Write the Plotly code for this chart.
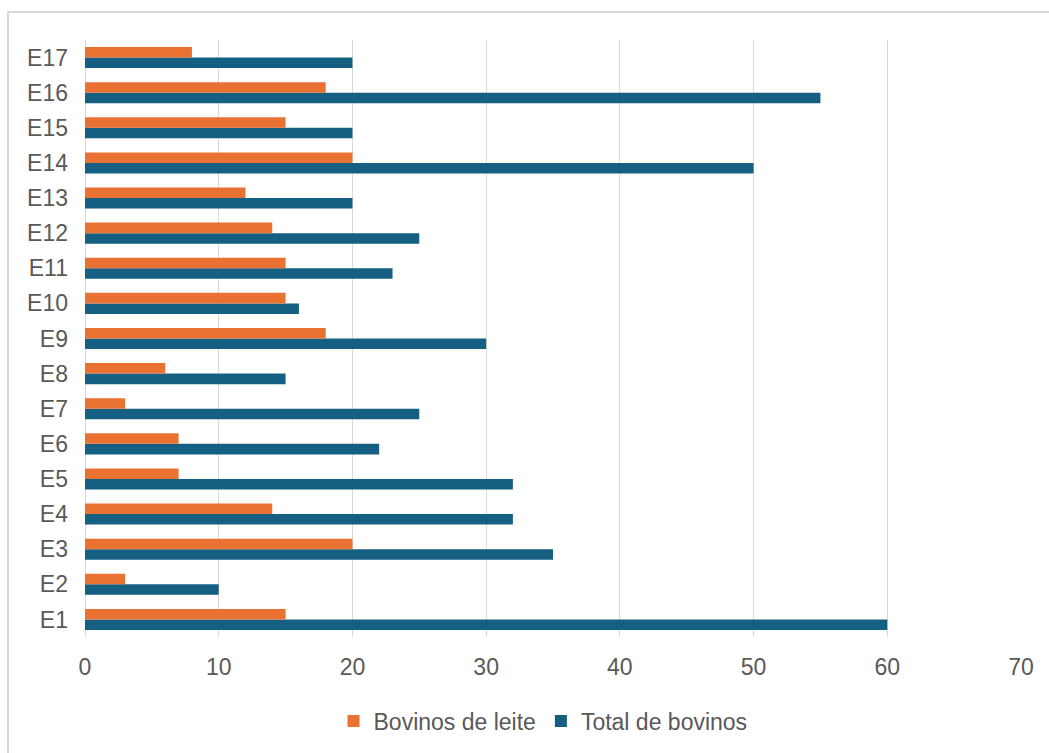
import plotly.graph_objects as go

categories = ["E1", "E2", "E3", "E4", "E5", "E6", "E7", "E8", "E9", "E10",
              "E11", "E12", "E13", "E14", "E15", "E16", "E17"]
bovinos_leite = [15, 3, 20, 14, 7, 7, 3, 6, 18, 15, 15, 14, 12, 20, 15, 18, 8]
total_bovinos = [60, 10, 35, 32, 32, 22, 25, 15, 30, 16, 23, 25, 20, 50, 20, 55, 20]
x_ticks = [0, 10, 20, 30, 40, 50, 60, 70]

ORANGE = "#E97132"
BLUE = "#156082"
TEXT = "#595959"
GRID = "#D9D9D9"
FS = 23

fig = go.Figure()
fig.add_trace(go.Bar(
    y=categories, x=total_bovinos, name="Total de bovinos", orientation="h",
    marker=dict(color=BLUE, line=dict(width=0)), legendrank=2,
))
fig.add_trace(go.Bar(
    y=categories, x=bovinos_leite, name="Bovinos de leite", orientation="h",
    marker=dict(color=ORANGE, line=dict(width=0)), legendrank=1,
))

W, H = 1049, 753
l, r, t, b = 85, 28, 40, 115
pw, ph = W - l - r, H - t - b

fig.update_layout(
    width=W, height=H,
    margin=dict(l=l, r=r, t=t, b=b),
    barmode="group", bargap=0.4, bargroupgap=0,
    paper_bgcolor="white", plot_bgcolor="white",
    font=dict(family="Liberation Sans, Arial, sans-serif", size=FS, color=TEXT),
    showlegend=True,
    legend=dict(orientation="h", x=0.5 - 10 / pw, xanchor="center",
                y=(H - b - 721) / ph, yanchor="middle",
                font=dict(size=FS, color=TEXT),
                itemwidth=30, traceorder="normal"),
    xaxis=dict(range=[0, 70], tickvals=x_ticks, showgrid=True, gridcolor=GRID,
               gridwidth=1, zeroline=True, zerolinecolor=GRID, zerolinewidth=1,
               showline=False, ticks="", ticklabelstandoff=14,
               tickfont=dict(size=FS, color=TEXT)),
    yaxis=dict(categoryorder="array", categoryarray=categories, showgrid=False,
               showline=False, ticks="", ticklabelstandoff=16,
               tickfont=dict(size=FS, color=TEXT)),
    shapes=[dict(type="rect", xref="paper", yref="paper",
                 x0=(8 - l) / pw, x1=1.2, y0=-0.4, y1=1 + (t - 12) / ph,
                 line=dict(color=GRID, width=2), layer="below")],
)

fig.write_html("out.html")
